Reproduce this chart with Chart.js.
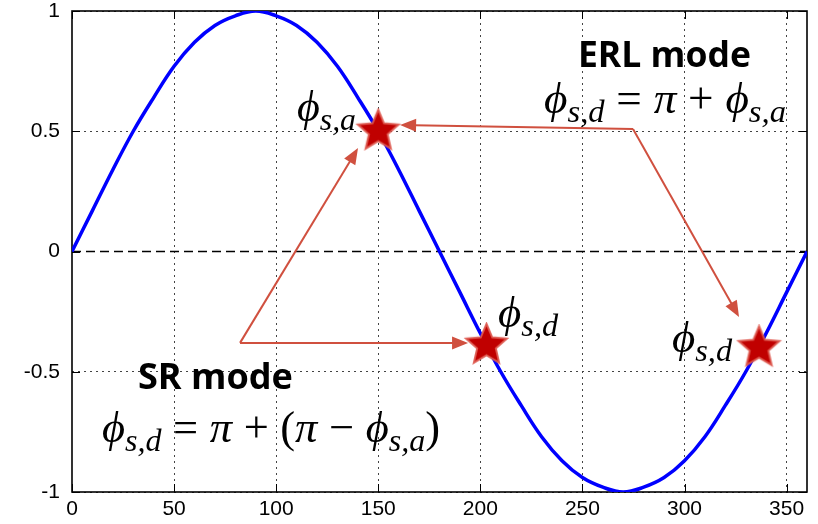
<!DOCTYPE html>
<html>
<head>
<meta charset="utf-8">
<script src="https://cdn.jsdelivr.net/npm/chart.js@4.4.1/dist/chart.umd.min.js"></script>
<style>
  html, body { margin: 0; padding: 0; background: #fff; }
  canvas { display: block; }
</style>
</head>
<body>
<canvas id="chart" width="818" height="524"></canvas>
<script>
// RF phase (degrees) and the normalised voltage sin(phase)
const angles = [0, 10, 20, 30, 40, 50, 60, 70, 80, 90, 100, 110, 120, 130, 140, 150, 160, 170, 180,
                190, 200, 210, 220, 230, 240, 250, 260, 270, 280, 290, 300, 310, 320, 330, 340, 350, 360];
const waveValues = [0, 0.17, 0.34, 0.5, 0.64, 0.77, 0.87, 0.94, 0.98, 1, 0.98, 0.94, 0.87, 0.77, 0.64, 0.5, 0.34, 0.17, 0,
                    -0.17, -0.34, -0.5, -0.64, -0.77, -0.87, -0.94, -0.98, -1, -0.98, -0.94, -0.87, -0.77, -0.64, -0.5, -0.34, -0.17, 0];

// synchronous phases: accelerating, decelerating (SR), decelerating (ERL)
const starPhase = [150, 203, 336.5];
const starValue = [0.5, -0.39, -0.40];

// zero reference line
const zeroPhase = [0, 360];
const zeroValue = [0, 0];

// axis ticks
const xTickValues = [0, 50, 100, 150, 200, 250, 300, 350];
const yTickValues = [-1, -0.5, 0, 0.5, 1];

// arrow paths in (phase, value); the last point of each gets the arrowhead
const erlArrowToAcc = [[274.8, 0.509], [160.7, 0.526]];
const erlArrowToDec = [[274.8, 0.509], [326.7, -0.272]];
const srArrowToAcc  = [[82.3, -0.380], [140.1, 0.430]];
const srArrowToDec  = [[82.3, -0.380], [194.0, -0.380]];

const ARROW_COLOR = '#d0503f';
const MATH_FONT = '"Liberation Serif", "DejaVu Serif", serif';
const TITLE_FONT = '"Open Sans", "DejaVu Sans", sans-serif';

// text blocks: anchor (phase, value) is left edge / baseline, width is the rendered width in px
const titles = [
  { text: 'ERL mode', x: 247.8, y: 0.767, width: 173 },
  { text: 'SR mode',  x: 32.3,  y: -0.572, width: 155 }
];
const formulas = [
  { src: 'ϕ_{s,d} = π + ϕ_{s,a}',     x: 231.2, y: 0.576,  width: 242 },
  { src: 'ϕ_{s,a}',                    x: 110.2, y: 0.543,  width: 59 },
  { src: 'ϕ_{s,d}',                    x: 208.7, y: -0.314, width: 60 },
  { src: 'ϕ_{s,d}',                    x: 293.9, y: -0.418, width: 60 },
  { src: 'ϕ_{s,d} = π + (π − ϕ_{s,a})', x: 14.7,  y: -0.792, width: 338 }
];

const wave = angles.map((a, i) => ({ x: a, y: waveValues[i] }));
const stars = starPhase.map((a, i) => ({ x: a, y: starValue[i] }));
const zeroLine = zeroPhase.map((a, i) => ({ x: a, y: zeroValue[i] }));

// filled five-pointed star used as the point marker
function makeStar(R, r) {
  const c = document.createElement('canvas');
  const s = Math.ceil(2 * R + 4);
  c.width = c.height = s;
  const g = c.getContext('2d');
  g.translate(s / 2, s / 2);
  g.beginPath();
  for (let k = 0; k < 10; k++) {
    const rad = k % 2 ? r : R;
    const ang = -Math.PI / 2 + k * Math.PI / 5;
    g.lineTo(rad * Math.cos(ang), rad * Math.sin(ang));
  }
  g.closePath();
  g.fillStyle = '#c00000';
  g.fill();
  g.lineWidth = 2;
  g.lineJoin = 'miter';
  g.strokeStyle = 'rgba(222, 90, 80, 0.9)';
  g.stroke();
  return c;
}
const starImage = makeStar(21.5, 9.8);

// split "ϕ_{s,d} = π" into runs; spaces become math spacing
function parseMath(src) {
  const runs = [];
  let i = 0;
  while (i < src.length) {
    const ch = src[i];
    if (ch === '_' && src[i + 1] === '{') {
      const end = src.indexOf('}', i);
      runs.push({ text: src.slice(i + 2, end), sub: true });
      i = end + 1;
    } else if (ch === ' ') {
      runs.push({ gap: true });
      i++;
    } else {
      runs.push({ text: ch, italic: /\p{L}/u.test(ch) });
      i++;
    }
  }
  return runs;
}

function mathFont(run, size) {
  if (run.sub) return 'italic ' + (size * 0.72).toFixed(2) + 'px ' + MATH_FONT;
  return (run.italic ? 'italic ' : '') + size.toFixed(2) + 'px ' + MATH_FONT;
}

function measureMath(ctx, runs, size) {
  let w = 0;
  for (const run of runs) {
    if (run.gap) { w += size * 0.26; continue; }
    ctx.font = mathFont(run, size);
    w += ctx.measureText(run.text).width;
  }
  return w;
}

function drawMath(ctx, src, x, y, width) {
  const runs = parseMath(src);
  const size = 30 * width / measureMath(ctx, runs, 30);
  let cx = x;
  ctx.textBaseline = 'alphabetic';
  ctx.textAlign = 'left';
  ctx.fillStyle = '#000';
  for (const run of runs) {
    if (run.gap) { cx += size * 0.26; continue; }
    ctx.font = mathFont(run, size);
    ctx.fillText(run.text, cx, y + (run.sub ? size * 0.2 : 0));
    cx += ctx.measureText(run.text).width;
  }
}

function drawArrow(ctx, pts, xs, ys) {
  const p = pts.map(([a, v]) => [xs.getPixelForValue(a), ys.getPixelForValue(v)]);
  const n = p.length;
  const [tx, ty] = p[n - 1];
  const [px, py] = p[n - 2];
  const len = Math.hypot(tx - px, ty - py);
  const ux = (tx - px) / len, uy = (ty - py) / len;
  const headLen = 16, headHalf = 6.5;
  const bx = tx - ux * headLen, by = ty - uy * headLen;
  ctx.save();
  ctx.strokeStyle = ARROW_COLOR;
  ctx.fillStyle = ARROW_COLOR;
  ctx.lineWidth = 2;
  ctx.lineJoin = 'miter';
  ctx.beginPath();
  ctx.moveTo(p[0][0], p[0][1]);
  for (let k = 1; k < n - 1; k++) ctx.lineTo(p[k][0], p[k][1]);
  ctx.lineTo(bx + ux * 2, by + uy * 2);
  ctx.stroke();
  ctx.beginPath();
  ctx.moveTo(tx, ty);
  ctx.lineTo(bx - uy * headHalf, by + ux * headHalf);
  ctx.lineTo(bx + uy * headHalf, by - ux * headHalf);
  ctx.closePath();
  ctx.fill();
  ctx.restore();
}

// frame on all four sides with inward tick marks
const framePlugin = {
  id: 'frame',
  beforeDatasetsDraw(chart) {
    const { ctx, chartArea: a, scales: { x, y } } = chart;
    ctx.save();
    ctx.strokeStyle = '#000';
    ctx.lineWidth = 1;
    ctx.beginPath();
    for (const v of xTickValues) {
      const px = Math.round(x.getPixelForValue(v)) + 0.5;
      ctx.moveTo(px, a.bottom); ctx.lineTo(px, a.bottom - 8);
      ctx.moveTo(px, a.top); ctx.lineTo(px, a.top + 8);
    }
    for (const v of yTickValues) {
      const py = Math.round(y.getPixelForValue(v)) + 0.5;
      ctx.moveTo(a.left, py); ctx.lineTo(a.left + 8, py);
      ctx.moveTo(a.right, py); ctx.lineTo(a.right - 8, py);
    }
    ctx.stroke();
    ctx.lineWidth = 1.6;
    ctx.strokeRect(a.left, a.top, a.right - a.left, a.bottom - a.top);
    ctx.restore();
  }
};

const annotationPlugin = {
  id: 'annotations',
  afterDatasetsDraw(chart) {
    const { ctx, scales: { x, y } } = chart;
    for (const path of [erlArrowToAcc, erlArrowToDec, srArrowToAcc, srArrowToDec]) {
      drawArrow(ctx, path, x, y);
    }
    ctx.save();
    for (const t of titles) {
      ctx.font = 'bold 30px ' + TITLE_FONT;
      const size = 30 * t.width / ctx.measureText(t.text).width;
      ctx.font = 'bold ' + size.toFixed(2) + 'px ' + TITLE_FONT;
      ctx.fillStyle = '#000';
      ctx.textAlign = 'left';
      ctx.textBaseline = 'alphabetic';
      ctx.fillText(t.text, x.getPixelForValue(t.x), y.getPixelForValue(t.y));
    }
    for (const f of formulas) {
      drawMath(ctx, f.src, x.getPixelForValue(f.x), y.getPixelForValue(f.y), f.width);
    }
    ctx.restore();
  }
};

Chart.defaults.color = '#000';

const gridColor = (c) => (c.tick && c.tick.value === 0 ? 'rgba(0,0,0,0)' : '#444');

new Chart(document.getElementById('chart'), {
  type: 'scatter',
  data: {
    datasets: [
      {
        label: 'zero',
        data: zeroLine,
        showLine: true,
        borderColor: '#000',
        borderWidth: 1.6,
        borderDash: [9, 5],
        pointRadius: 0,
        order: 3
      },
      {
        label: 'sin',
        data: wave,
        showLine: true,
        borderColor: '#0000ff',
        borderWidth: 3.5,
        pointRadius: 0,
        tension: 0.4,
        order: 2
      },
      {
        label: 'phases',
        data: stars,
        pointStyle: starImage,
        pointRadius: 10,
        order: 1
      }
    ]
  },
  options: {
    responsive: false,
    animation: false,
    events: [],
    layout: { padding: { top: 11, right: 11, left: 0, bottom: 0 } },
    plugins: { legend: { display: false }, tooltip: { enabled: false } },
    scales: {
      x: {
        type: 'linear',
        min: 0,
        max: 360,
        afterFit(s) { s.height = 32; s.paddingLeft = 0; s.paddingRight = 0; },
        afterBuildTicks(s) { s.ticks = xTickValues.map(v => ({ value: v })); },
        ticks: { font: { family: 'Liberation Sans', size: 21 }, color: '#000', padding: 5, maxRotation: 0, autoSkip: false, callback: v => String(v) },
        grid: { color: gridColor, lineWidth: 1, drawTicks: false },
        border: { display: false, dash: [2, 4] }
      },
      y: {
        type: 'linear',
        min: -1,
        max: 1,
        afterFit(s) { s.width = 72; s.paddingTop = 0; s.paddingBottom = 0; },
        afterBuildTicks(s) { s.ticks = yTickValues.map(v => ({ value: v })); },
        ticks: { font: { family: 'Liberation Sans', size: 21 }, color: '#000', padding: 12, autoSkip: false, callback: v => String(v) },
        grid: { color: gridColor, lineWidth: 1, drawTicks: false },
        border: { display: false, dash: [2, 4] }
      }
    }
  },
  plugins: [framePlugin, annotationPlugin]
});
</script>
</body>
</html>
